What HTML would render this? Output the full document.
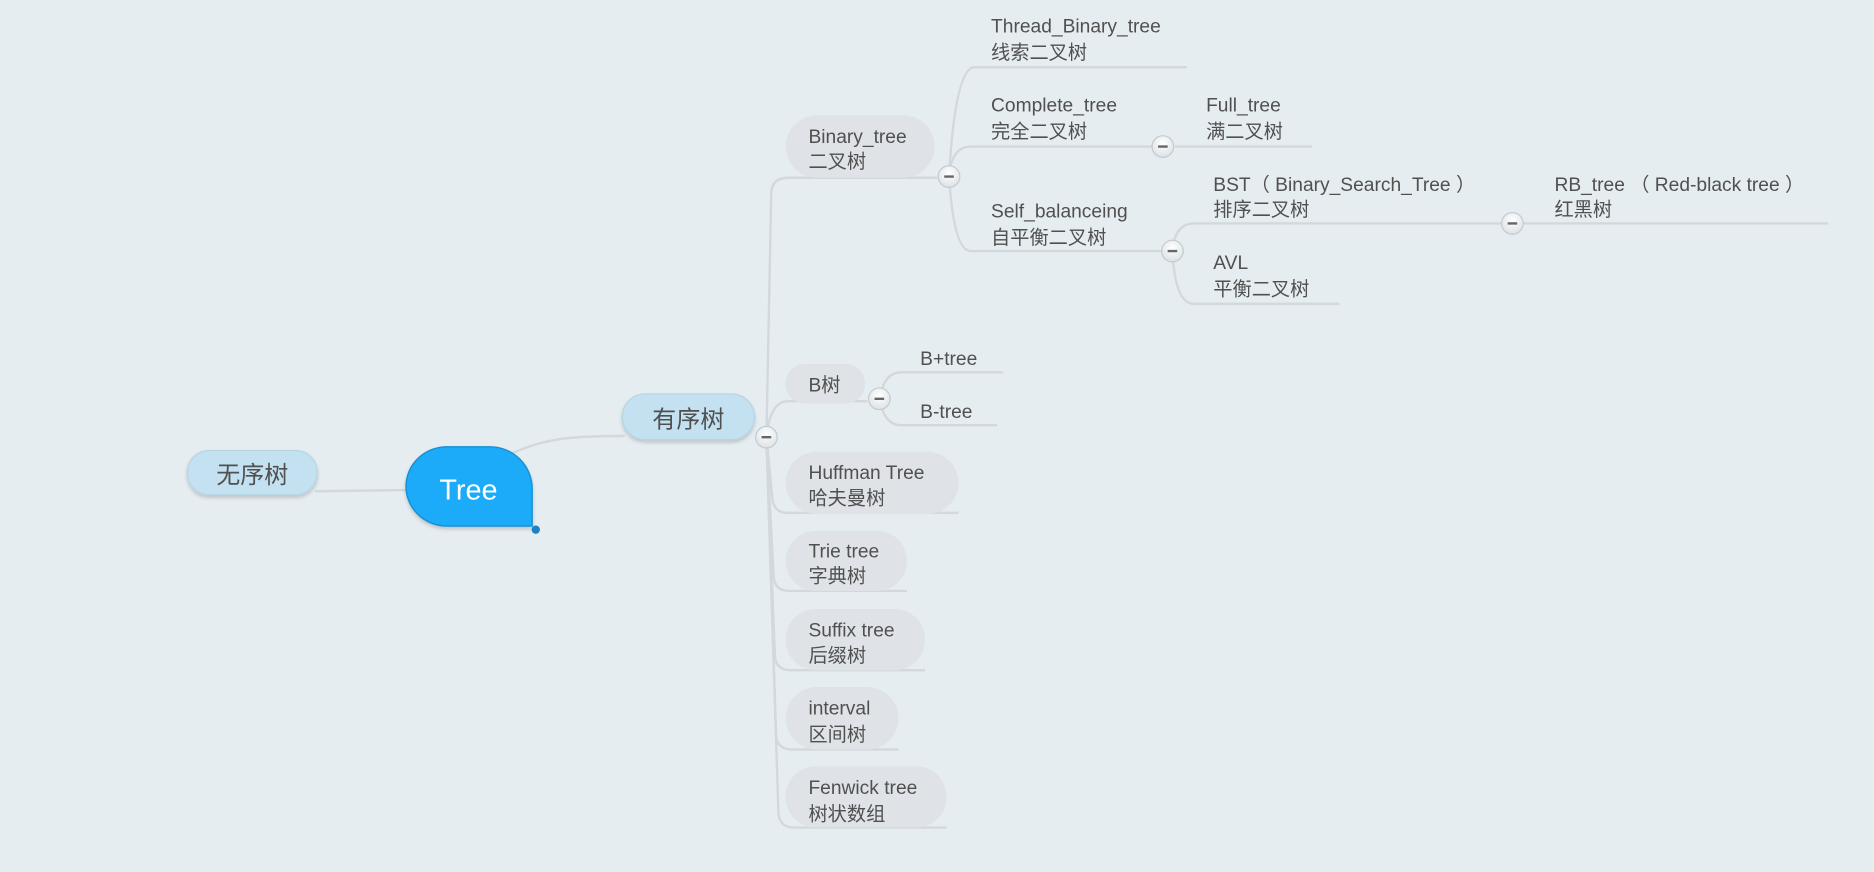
<!DOCTYPE html>
<html><head><meta charset="utf-8"><style>
html,body{margin:0;padding:0;background:#e6edf1;width:1874px;height:872px;overflow:hidden}
svg{display:block}
text{font-family:"Liberation Sans","Noto Sans CJK SC",sans-serif;fill:#505050}
</style></head><body>
<svg width="1874" height="872" viewBox="0 0 1560 726" preserveAspectRatio="none" xmlns="http://www.w3.org/2000/svg">
<defs>
<filter id="sh" x="-20%" y="-20%" width="140%" height="160%"><feDropShadow dx="0" dy="2" stdDeviation="1.5" flood-color="#000" flood-opacity="0.18"/></filter>
<radialGradient id="cg" cx="50%" cy="35%" r="65%"><stop offset="0" stop-color="#ffffff"/><stop offset="1" stop-color="#dde2e5"/></radialGradient>
</defs>
<rect width="1560" height="726" fill="#e6edf1"/>
<g fill="none" stroke="#d2d8db" stroke-width="2">
<!-- left -->
<path d="M262,409 L338,408"/>
<path d="M425,378 C455,364 480,363 520,363"/>
<!-- trunk from 有序树 -->
<path d="M638,364 L642,160 Q643,148 656,148 L780,148"/>
<path d="M638,364 Q641,334 656,334 L722,334"/>
<path d="M638,364 L643,415 Q644,427 656,427 L798,427"/>
<path d="M638,364 L644,480 Q645,492 657,492 L755,492"/>
<path d="M638,364 L645,546 Q646,558 658,558 L770,558"/>
<path d="M638,364 L646,612 Q647,624 659,624 L748,624"/>
<path d="M638,364 L648,677 Q649,689 661,689 L788,689"/>
<!-- Binary tree branches -->
<path d="M790,147 Q795,60 810,56 L988,56"/>
<path d="M790,147 Q792,122 808,122 L960,122"/>
<path d="M978,122 L1092,122"/>
<path d="M790,147 Q794,209 808,209 L968,209"/>
<path d="M976,209 Q978,186 994,186 L1250,186"/>
<path d="M1268,186 L1522,186"/>
<path d="M976,209 Q978,253 994,253 L1115,253"/>
<!-- B树 -->
<path d="M732,332 Q736,310 750,310 L835,310"/>
<path d="M732,332 Q736,354 750,354 L830,354"/>
</g>
<!-- pills second level -->
<g fill="#dfe3e7">
<rect x="654" y="96" width="124" height="52" rx="26"/>
<rect x="654" y="303" width="66" height="33" rx="16"/>
<rect x="654" y="376" width="144" height="52" rx="26"/>
<rect x="654" y="442" width="101" height="50" rx="25"/>
<rect x="654" y="507" width="116" height="51" rx="25"/>
<rect x="654" y="572" width="94" height="52" rx="26"/>
<rect x="654" y="638" width="134" height="51" rx="25"/>
</g>
<!-- level 1 pills -->
<g filter="url(#sh)">
<rect x="156" y="375" width="108" height="37" rx="18" fill="#c3e1f0" stroke="#b7d4e2"/>
<rect x="518" y="328" width="110" height="38" rx="19" fill="#c3e1f0" stroke="#b7d4e2"/>
<path d="M372,372 L408,372 A35,35 0 0 1 443,407 L443,438 L372,438 A34,33 0 0 1 338,405 A34,33 0 0 1 372,372 Z" fill="#1eabf9" stroke="#1690d2" stroke-width="1.2"/>
</g>
<circle cx="446" cy="441" r="3.5" fill="#1a84c6"/>
<text x="210" y="402" font-size="20" text-anchor="middle">无序树</text>
<text x="573" y="356" font-size="20" text-anchor="middle">有序树</text>
<text x="390" y="416" font-size="24" text-anchor="middle" style="fill:#fff">Tree</text>
<!-- collapse circles -->
<g stroke="#c4cacd" stroke-width="1" fill="url(#cg)">
<circle cx="638" cy="364" r="9"/><circle cx="790" cy="147" r="9"/><circle cx="968" cy="122" r="9"/>
<circle cx="976" cy="209" r="9"/><circle cx="1259" cy="186" r="9"/><circle cx="732" cy="332" r="9"/>
</g>
<g stroke="#666" stroke-width="2">
<path d="M634,364h8M786,147h8M964,122h8M972,209h8M1255,186h8M728,332h8"/>
</g>
<g font-size="16">
<text x="673" y="119">Binary_tree</text><text x="673" y="140">二叉树</text>
<text x="673" y="326">B树</text>
<text x="673" y="399">Huffman Tree</text><text x="673" y="420">哈夫曼树</text>
<text x="673" y="464">Trie tree</text><text x="673" y="485">字典树</text>
<text x="673" y="530">Suffix tree</text><text x="673" y="551">后缀树</text>
<text x="673" y="595">interval</text><text x="673" y="617">区间树</text>
<text x="673" y="661">Fenwick tree</text><text x="673" y="683">树状数组</text>
<text x="825" y="27">Thread_Binary_tree</text><text x="825" y="49">线索二叉树</text>
<text x="825" y="93">Complete_tree</text><text x="825" y="115">完全二叉树</text>
<text x="1004" y="93">Full_tree</text><text x="1004" y="115">满二叉树</text>
<text x="825" y="181">Self_balanceing</text><text x="825" y="203">自平衡二叉树</text>
<text x="1010" y="159">BST（ Binary_Search_Tree ）</text><text x="1010" y="180">排序二叉树</text>
<text x="1294" y="159">RB_tree （ Red-black tree ）</text><text x="1294" y="180">红黑树</text>
<text x="1010" y="224">AVL</text><text x="1010" y="246">平衡二叉树</text>
<text x="766" y="304">B+tree</text>
<text x="766" y="348">B-tree</text>
</g>
</svg>
</body></html>
